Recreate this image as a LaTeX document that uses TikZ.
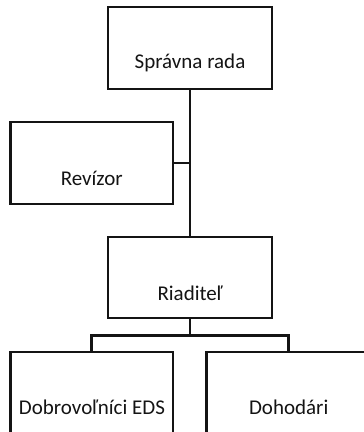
\documentclass[tikz,border=0pt]{standalone}
\usepackage{fontspec}
\setmainfont{Carlito}
\begin{document}
\begin{tikzpicture}[x=1pt,y=-1pt,
  box/.style={draw=black!92, line width=2.6pt, minimum width=164pt, minimum height=82pt, inner sep=0pt},
  lbl/.style={anchor=base, inner sep=0pt, font=\fontsize{21}{24}\selectfont, text=black!92},
  conn/.style={draw=black!92, line width=2.6pt}]
\useasboundingbox (0,0) rectangle (364,432);
\clip (0,0) rectangle (364,432);
\node[box] (sr) at (190,48) {};
\node[box, minimum width=162.5pt] (rev) at (91.75,163) {};
\node[box, minimum height=81pt] (ria) at (190,277.5) {};
\node[box, minimum width=162.5pt] (dob) at (91.75,393) {};
\node[box] (doh) at (288.7,393) {};
\node[lbl] (tsr) at (190,68.5) {Správna rada};
\node[lbl] (trev) at (91.75,185) {Revízor};
\node[lbl] (tria) at (190,300) {Riaditeľ};
\node[lbl] (tdob) at (92,414.5) {Dobrovoľníci EDS};
\node[lbl] (tdoh) at (288.7,414.5) {Dohodári};
\coordinate (bar) at (190,335.5);
\draw[conn] (sr.south) -- (ria.north);
\draw[conn] (rev.east) -- (rev.east -| sr.south);
\draw[conn] (ria.south) -- (bar);
\draw[conn] (bar) -| (dob.north);
\draw[conn] (bar) -| (doh.north);
\end{tikzpicture}
\end{document}
